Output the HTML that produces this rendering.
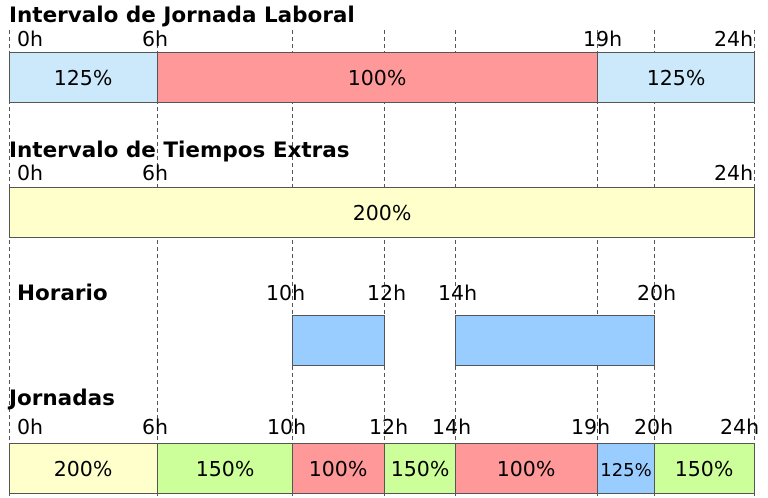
<!DOCTYPE html>
<html><head><meta charset="utf-8"><style>html,body{margin:0;padding:0;background:#fff}svg{display:block}</style></head>
<body>
<svg width="768" height="498" xmlns="http://www.w3.org/2000/svg" font-family="DejaVu Sans, Verdana, sans-serif">
<g stroke="#555" stroke-width="1" stroke-dasharray="4,3">
<line x1="9.5" y1="30" x2="9.5" y2="498"/>
<line x1="157.5" y1="30" x2="157.5" y2="498"/>
<line x1="292.5" y1="30" x2="292.5" y2="498"/>
<line x1="384.5" y1="30" x2="384.5" y2="498"/>
<line x1="455.5" y1="30" x2="455.5" y2="498"/>
<line x1="597.5" y1="30" x2="597.5" y2="498"/>
<line x1="654.5" y1="30" x2="654.5" y2="498"/>
<line x1="754.5" y1="30" x2="754.5" y2="498"/>
</g>
<g stroke="#555" stroke-width="1">
<rect x="9.5" y="52.5" width="148" height="50" fill="#cce9fb"/>
<rect x="157.5" y="52.5" width="440" height="50" fill="#ff9999"/>
<rect x="597.5" y="52.5" width="157" height="50" fill="#cce9fb"/>
<rect x="9.5" y="187.5" width="745" height="50" fill="#ffffcc"/>
<rect x="292.5" y="315.5" width="92" height="50" fill="#99ccff"/>
<rect x="455.5" y="315.5" width="199" height="50" fill="#99ccff"/>
<rect x="9.5" y="443.5" width="148" height="50" fill="#ffffcc"/>
<rect x="157.5" y="443.5" width="135" height="50" fill="#ccff99"/>
<rect x="292.5" y="443.5" width="92" height="50" fill="#ff9999"/>
<rect x="384.5" y="443.5" width="71" height="50" fill="#ccff99"/>
<rect x="455.5" y="443.5" width="142" height="50" fill="#ff9999"/>
<rect x="597.5" y="443.5" width="57" height="50" fill="#99ccff"/>
<rect x="654.5" y="443.5" width="100" height="50" fill="#ccff99"/>
</g>
<g font-weight="bold" font-size="21.5" fill="#000">
<text x="9" y="22">Intervalo de Jornada Laboral</text>
<text x="9" y="157">Intervalo de Tiempos Extras</text>
<text x="17" y="300">Horario</text>
<text x="9" y="405">Jornadas</text>
</g>
<g font-size="20.5" fill="#000">
<text x="17" y="46">0h</text><text x="142" y="46">6h</text><text x="583" y="46">19h</text><text x="714" y="46">24h</text>
<text x="17" y="180">0h</text><text x="142" y="180">6h</text><text x="714" y="180">24h</text>
<text x="266" y="300">10h</text><text x="367" y="300">12h</text><text x="438" y="300">14h</text><text x="637" y="300">20h</text>
<text x="17" y="434">0h</text><text x="142" y="434">6h</text><text x="267" y="434">10h</text><text x="369" y="434">12h</text><text x="432" y="434">14h</text><text x="571" y="434">19h</text><text x="634" y="434">20h</text><text x="720" y="434">24h</text>
</g>
<g font-size="20.5" fill="#000" text-anchor="middle">
<text x="83" y="85">125%</text><text x="377" y="85">100%</text><text x="676" y="85">125%</text>
<text x="382" y="220">200%</text>
<text x="83" y="476">200%</text><text x="225" y="476">150%</text><text x="338" y="476">100%</text><text x="420" y="476">150%</text><text x="526" y="476">100%</text><text x="626" y="476" font-size="18">125%</text><text x="704" y="476">150%</text>
</g>
</svg>
</body></html>
